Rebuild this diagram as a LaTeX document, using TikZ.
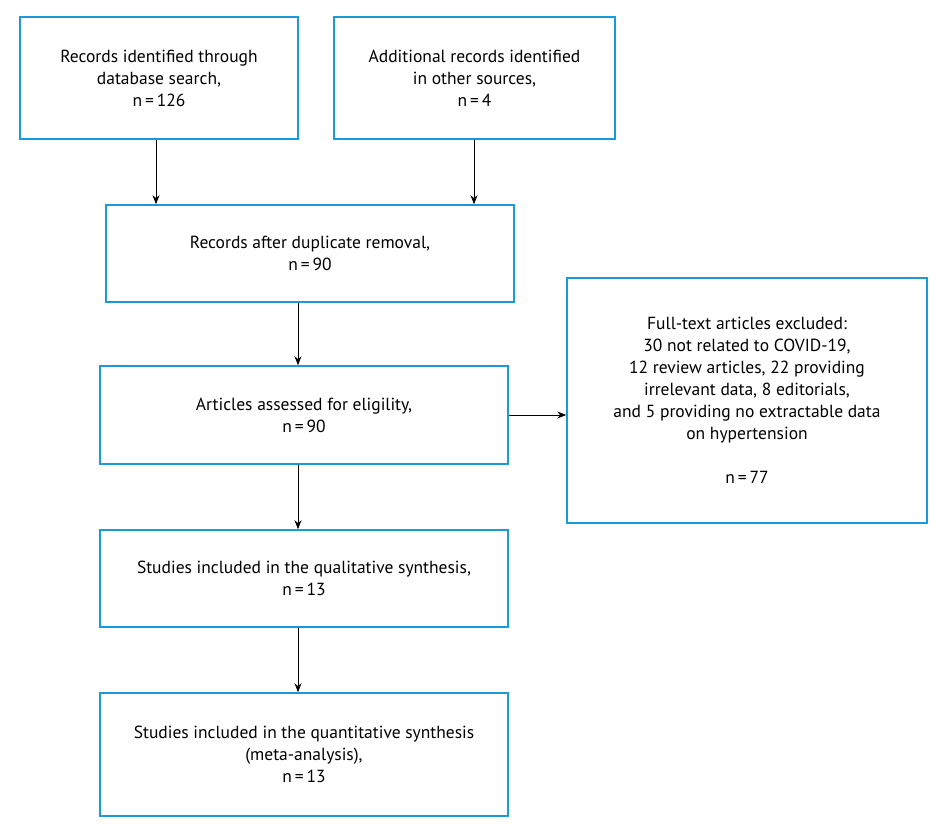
\documentclass[tikz,border=0pt]{standalone}
\usepackage{fontspec}
\setmainfont{PT Sans}
\usetikzlibrary{arrows.meta}
\definecolor{bx}{HTML}{1A9AD6}
\begin{document}
\begin{tikzpicture}[x=1pt,y=-1pt,
 box/.style={draw=bx,line width=1.6pt,inner sep=0pt,align=center,font=\fontsize{17.5}{22}\selectfont},
 arr/.style={-{Stealth[length=9pt,width=7pt]},line width=0.8pt}]
\useasboundingbox (0,0) rectangle (943,837);
\newcommand\bx[6]{\node[box,minimum width=#4-#2,minimum height=#5-#3] (#1) at ({(#2+#4)/2},{(#3+#5)/2}) {#6};}
\bx{a}{20}{17}{298}{139}{Records identified through\\database search,\\n\,=\,126}
\bx{b}{334}{17}{615}{139}{Additional records identified\\in other sources,\\n\,=\,4}
\bx{c}{106}{205}{514}{302}{Records after duplicate removal,\\n\,=\,90}
\bx{d}{100}{366}{508}{464}{Articles assessed for eligility,\\n\,=\,90}
\bx{e}{567}{278}{927}{523}{Full-text articles excluded:\\30 not related to COVID-19,\\12 review articles, 22 providing\\irrelevant data, 8 editorials,\\and 5 providing no extractable data\\on hypertension\\[22pt]n\,=\,77}
\bx{f}{100}{530}{508}{627}{Studies included in the qualitative synthesis,\\n\,=\,13}
\bx{g}{100}{693}{508}{816}{Studies included in the quantitative synthesis\\(meta-analysis),\\n\,=\,13}
\draw[arr] (a.south -| 156,0) -- (c.north -| 156,0);
\draw[arr] (b.south -| 474,0) -- (c.north -| 474,0);
\draw[arr] (c.south -| 298,0) -- (d.north -| 298,0);
\draw[arr] (d.east |- 0,415) -- (e.west |- 0,415);
\draw[arr] (d.south -| 298,0) -- (f.north -| 298,0);
\draw[arr] (f.south -| 298,0) -- (g.north -| 298,0);
\end{tikzpicture}
\end{document}
